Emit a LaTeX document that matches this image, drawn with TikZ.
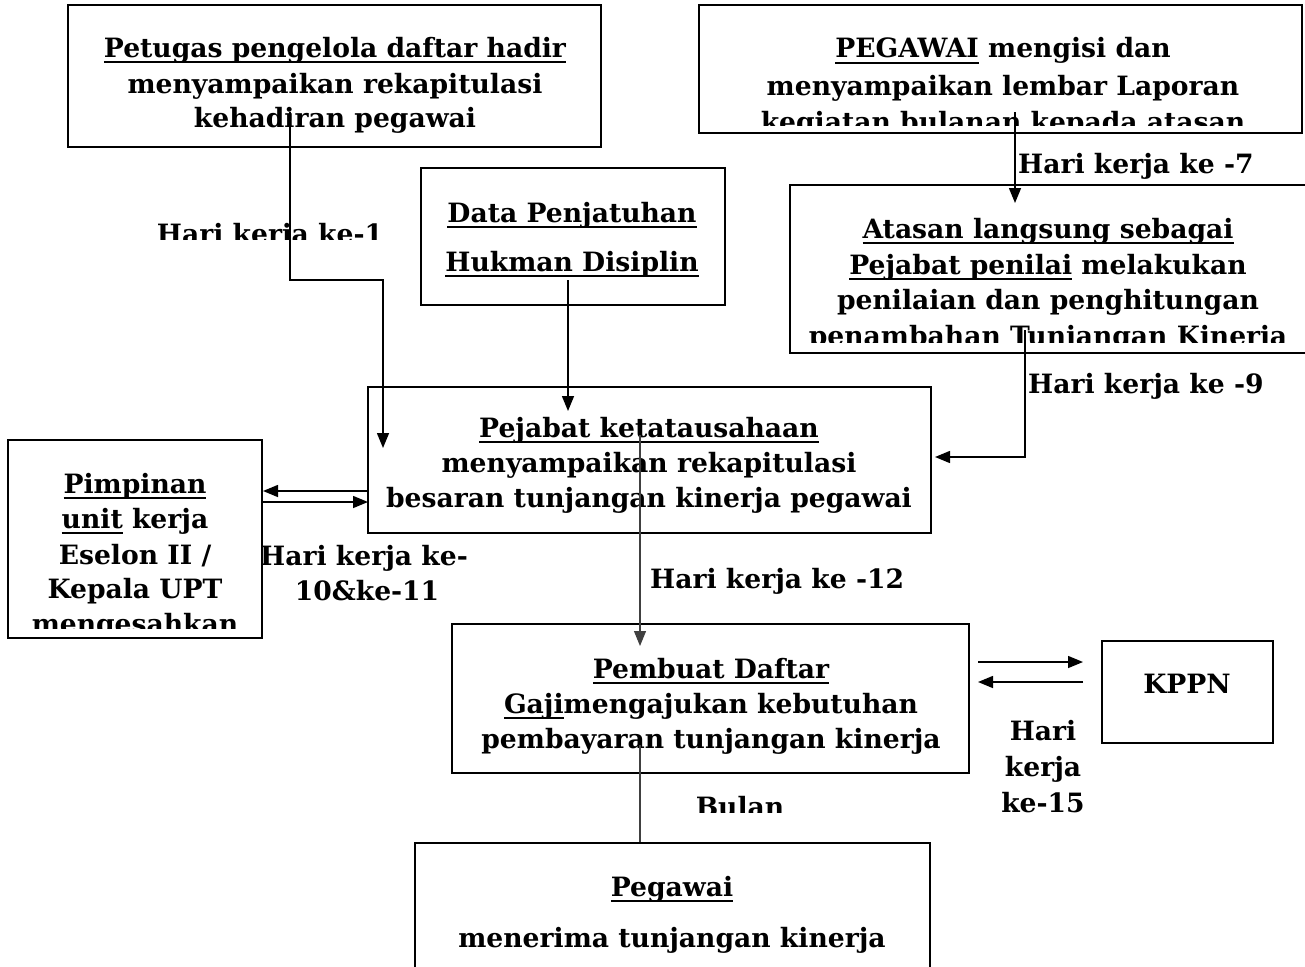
\documentclass[tikz,border=0pt]{standalone}
\usepackage{fontspec}
\setmainfont{DejaVu Serif}
\usetikzlibrary{arrows.meta}
\newsavebox\ulbox
\newcommand\ulx[1]{\sbox\ulbox{#1}\rlap{\rule[-5.5pt]{\wd\ulbox}{1.8pt}}\usebox\ulbox}
\tikzset{
  box/.style={draw, line width=1.6pt, inner sep=0pt},
  txt/.style={font=\bfseries\fontsize{26.6}{35}\selectfont, inner sep=0pt, anchor=base},
  conn/.style={line width=1.5pt},
  thin/.style={line width=1.1pt, black!75},
  tip/.style={-{Triangle[length=15pt,width=12pt]}},
  arr/.style={conn, tip},
}
\begin{document}
\begin{tikzpicture}[x=1pt,y=-1pt]
\useasboundingbox (0,0) rectangle (1305,966);
\begin{scope}
\clip (0,0) rectangle (1305,966);
% ---------- boxes
\node[box, minimum width=533pt, minimum height=142pt] (A) at (334.5,76) {};
\node[box, minimum width=603pt, minimum height=128pt] (B) at (1000.5,69) {};
\node[box, minimum width=525pt, minimum height=168pt] (C) at (1052.5,269) {};
\node[box, minimum width=304pt, minimum height=137pt] (D) at (573,236.5) {};
\node[box, minimum width=563pt, minimum height=146pt] (E) at (649.5,460) {};
\node[box, minimum width=254pt, minimum height=198pt] (F) at (135,539) {};
\node[box, minimum width=517pt, minimum height=149pt] (G) at (710.5,698.5) {};
\node[box, minimum width=171pt, minimum height=102pt] (K) at (1187.5,692) {};
\node[box, minimum width=515pt, minimum height=157pt] (H) at (672.5,921.5) {};
% ---------- texts
\node[txt] (A1) at (335,57) {\ulx{Petugas pengelola daftar hadir}};
\node[txt] (A2) at (335,93) {menyampaikan rekapitulasi};
\node[txt] (A3) at (335,127) {kehadiran pegawai};
\begin{scope}
\clip (699,5) rectangle (1302,125);
\node[txt] (B1) at (1003,58) {\ulx{PEGAWAI} mengisi dan};
\node[txt] (B2) at (1003,95) {menyampaikan lembar Laporan};
\node[txt] (B3) at (1003,131) {kegiatan bulanan kepada atasan};
\end{scope}
\node[txt, anchor=base west] (L7) at (1018,173) {Hari kerja ke -7};
\begin{scope}
\clip (790,185) rectangle (1305,342);
\node[txt] (C1) at (1048,238) {\ulx{Atasan langsung sebagai}};
\node[txt] (C2) at (1048,274) {\ulx{Pejabat penilai} melakukan};
\node[txt] (C3) at (1048,309) {penilaian dan penghitungan};
\node[txt] (C4) at (1048,345) {penambahan Tunjangan Kinerja};
\end{scope}
\node[txt, anchor=base west] (L9) at (1028,393) {Hari kerja ke -9};
\node[txt] (D1) at (572,222) {\ulx{Data Penjatuhan}};
\node[txt] (D2) at (572,271) {\ulx{Hukman Disiplin}};
\begin{scope}
\clip (100,200) rectangle (420,239);
\node[txt] (L1) at (270,243) {Hari kerja ke-1};
\end{scope}
\node[txt] (E1) at (649,437) {\ulx{Pejabat ketatausahaan}};
\node[txt] (E2) at (649,472) {menyampaikan rekapitulasi};
\node[txt] (E3) at (649,507) {besaran tunjangan kinerja pegawai};
\begin{scope}
\clip (8,440) rectangle (262,628);
\node[txt] (F1) at (135,493) {\ulx{Pimpinan}};
\node[txt] (F2) at (135,528) {\ulx{unit} kerja};
\node[txt] (F3) at (135,564) {Eselon II /};
\node[txt] (F4) at (135,598) {Kepala UPT};
\node[txt] (F5) at (135,633) {mengesahkan};
\end{scope}
\node[txt] (L10a) at (364,565) {Hari kerja ke-};
\node[txt] (L10b) at (367,600) {10\&ke-11};
\node[txt, anchor=base west] (L12) at (650,588) {Hari kerja ke -12};
\node[txt] (G1) at (711,678) {\ulx{Pembuat Daftar}};
\node[txt] (G2) at (711,713) {\ulx{Gaji}mengajukan kebutuhan};
\node[txt] (G3) at (711,748) {pembayaran tunjangan kinerja};
\node[txt] (K1) at (1187,693) {KPPN};
\node[txt] (L15a) at (1043,740) {Hari};
\node[txt] (L15b) at (1043,776) {kerja};
\node[txt] (L15c) at (1043,812) {ke-15};
\begin{scope}
\clip (680,780) rectangle (800,812);
\node[txt] (LB) at (740,816) {Bulan};
\end{scope}
\node[txt] (H1) at (672,896) {\ulx{Pegawai}};
\node[txt] (H2) at (672,947) {menerima tunjangan kinerja};
% ---------- connector points
\coordinate (pa1) at (290,112);
\coordinate (pa2) at (290,280);
\coordinate (pa3) at (383,280);
\coordinate (pa4) at (383,448);
\coordinate (pd1) at (568,280);
\coordinate (pd2) at (568,411);
\coordinate (pb1) at (1015,112);
\coordinate (pb2) at (1015,203);
\coordinate (pc1) at (1025,330);
\coordinate (pc2) at (1025,457);
\coordinate (pc3) at (935,457);
\coordinate (pef1) at (368,491);
\coordinate (pef2) at (263,491);
\coordinate (pfe1) at (263,502);
\coordinate (pfe2) at (368,502);
\coordinate (pe1) at (640,435);
\coordinate (pe2) at (640,646);
\coordinate (pgk1) at (978,662);
\coordinate (pgk2) at (1083,662);
\coordinate (pkg1) at (1083,682);
\coordinate (pkg2) at (978,682);
\coordinate (pg1) at (640,745);
% ---------- connectors
\draw[arr] (pa1) -- (pa2) -- (pa3) -- (pa4);
\draw[arr] (pd1) -- (pd2);
\draw[arr] (pb1) -- (pb2);
\draw[arr] (pc1) -- (pc2) -- (pc3);
\draw[arr] (pef1) -- (pef2);
\draw[arr] (pfe1) -- (pfe2);
\draw[thin, tip] (pe1) -- (pe2);
\draw[arr] (pgk1) -- (pgk2);
\draw[arr] (pkg1) -- (pkg2);
\draw[thin] (pg1) -- (H.north -| pg1);
\end{scope}
\end{tikzpicture}
\end{document}
